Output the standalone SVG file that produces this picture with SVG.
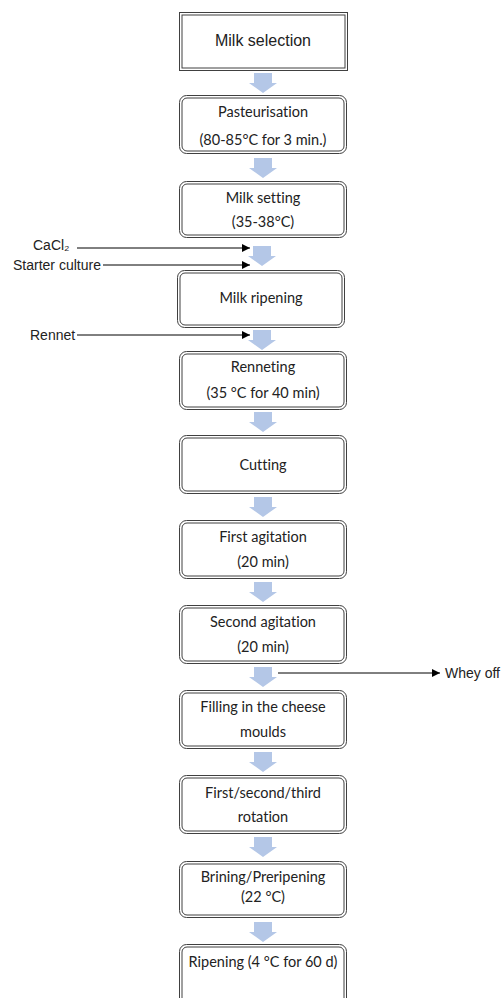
<svg xmlns="http://www.w3.org/2000/svg" width="502" height="998" viewBox="0 0 502 998">
<style>
.bo{fill:#fff;stroke:#404040;stroke-width:1}
.bi{fill:none;stroke:#404040;stroke-width:1}
.t{font-family:Lato,"Open Sans",sans-serif;font-size:14.5px;fill:#222;text-anchor:middle;font-variant-ligatures:none}
.a{font-family:"Liberation Sans",Arial,sans-serif;font-size:14px;fill:#222}
.ba{fill:#b4c7e7}
.ln{stroke:#000;stroke-width:1;fill:none}
</style>
<defs>
<marker id="ah" viewBox="0 0 10 10" refX="10" refY="5" markerWidth="9" markerHeight="8" markerUnits="userSpaceOnUse" orient="auto"><path d="M0,0L10,5L0,10z" fill="#000"/></marker>
<path id="blk" class="ba" d="M-9,0H9V10H14L0,20L-14,10H-9z"/>
</defs>
<g id="connectors">
<use href="#blk" x="263" y="73"/>
<use href="#blk" x="263" y="158"/>
<use href="#blk" x="262" y="246"/>
<use href="#blk" x="262" y="330"/>
<use href="#blk" x="263" y="412"/>
<use href="#blk" x="263" y="497"/>
<use href="#blk" x="263" y="582"/>
<use href="#blk" x="263" y="667"/>
<use href="#blk" x="263" y="752"/>
<use href="#blk" x="263" y="837"/>
<use href="#blk" x="263" y="922"/>
<line class="ln" x1="77" y1="248" x2="250" y2="248" marker-end="url(#ah)"/>
<line class="ln" x1="103" y1="265" x2="250" y2="265" marker-end="url(#ah)"/>
<line class="ln" x1="77" y1="335" x2="250" y2="335" marker-end="url(#ah)"/>
<line class="ln" x1="278" y1="673" x2="440" y2="673" marker-end="url(#ah)"/>
</g>
<g id="lbl-cacl2"><text class="a" x="33" y="250">CaCl₂</text></g>
<g id="lbl-starter"><text class="a" x="13" y="270">Starter culture</text></g>
<g id="lbl-rennet"><text class="a" x="30" y="340">Rennet</text></g>
<g id="lbl-whey"><text class="a" x="445" y="678">Whey off</text></g>
<g id="n1">
<rect class="bo" x="179.5" y="12.5" width="168" height="58"/>
<rect class="bi" x="182" y="15" width="163" height="53"/>
<text style="font-family:'Liberation Sans',Arial,sans-serif;font-size:16px;fill:#222;text-anchor:middle" x="263" y="46">Milk selection</text>
</g>
<g id="n2">
<rect class="bo" x="179.5" y="95.5" width="167" height="58" rx="7"/>
<rect class="bi" x="182" y="98" width="162" height="53" rx="5"/>
<text class="t" x="263" y="117">Pasteurisation</text>
<text class="t" x="263" y="145">(80-85°C for 3 min.)</text>
</g>
<g id="n3">
<rect class="bo" x="179.5" y="181.5" width="167" height="56" rx="7"/>
<rect class="bi" x="182" y="184" width="162" height="51" rx="5"/>
<text class="t" x="263" y="203">Milk setting</text>
<text class="t" x="263" y="227">(35-38°C)</text>
</g>
<g id="n4">
<rect class="bo" x="177.5" y="270.5" width="167" height="57" rx="7"/>
<rect class="bi" x="180" y="273" width="162" height="52" rx="5"/>
<text class="t" x="261" y="303">Milk ripening</text>
</g>
<g id="n5">
<rect class="bo" x="179.5" y="351.5" width="167" height="58" rx="7"/>
<rect class="bi" x="182" y="354" width="162" height="53" rx="5"/>
<text class="t" x="263" y="372">Renneting</text>
<text class="t" x="263" y="398">(35 °C for 40 min)</text>
</g>
<g id="n6">
<rect class="bo" x="179.5" y="435.5" width="167" height="58" rx="7"/>
<rect class="bi" x="182" y="438" width="162" height="53" rx="5"/>
<text class="t" x="263" y="470">Cutting</text>
</g>
<g id="n7">
<rect class="bo" x="179.5" y="520.5" width="167" height="58" rx="7"/>
<rect class="bi" x="182" y="523" width="162" height="53" rx="5"/>
<text class="t" x="263" y="542">First agitation</text>
<text class="t" x="263" y="567">(20 min)</text>
</g>
<g id="n8">
<rect class="bo" x="179.5" y="605.5" width="167" height="58" rx="7"/>
<rect class="bi" x="182" y="608" width="162" height="53" rx="5"/>
<text class="t" x="263" y="627">Second agitation</text>
<text class="t" x="263" y="652">(20 min)</text>
</g>
<g id="n9">
<rect class="bo" x="179.5" y="690.5" width="167" height="58" rx="7"/>
<rect class="bi" x="182" y="693" width="162" height="53" rx="5"/>
<text class="t" x="263" y="712">Filling in the cheese</text>
<text class="t" x="263" y="737">moulds</text>
</g>
<g id="n10">
<rect class="bo" x="179.5" y="775.5" width="167" height="58" rx="7"/>
<rect class="bi" x="182" y="778" width="162" height="53" rx="5"/>
<text class="t" x="263" y="798">First/second/third</text>
<text class="t" x="263" y="822">rotation</text>
</g>
<g id="n11">
<rect class="bo" x="179.5" y="861.5" width="167" height="56" rx="7"/>
<rect class="bi" x="182" y="864" width="162" height="51" rx="5"/>
<text class="t" x="263" y="882">Brining/Preripening</text>
<text class="t" x="263" y="902">(22 °C)</text>
</g>
<g id="n12">
<rect class="bo" x="179.5" y="944.5" width="167" height="70" rx="7"/>
<rect class="bi" x="182" y="947" width="162" height="65" rx="5"/>
<text class="t" x="263" y="967">Ripening (4 °C for 60 d)</text>
</g>
</svg>
